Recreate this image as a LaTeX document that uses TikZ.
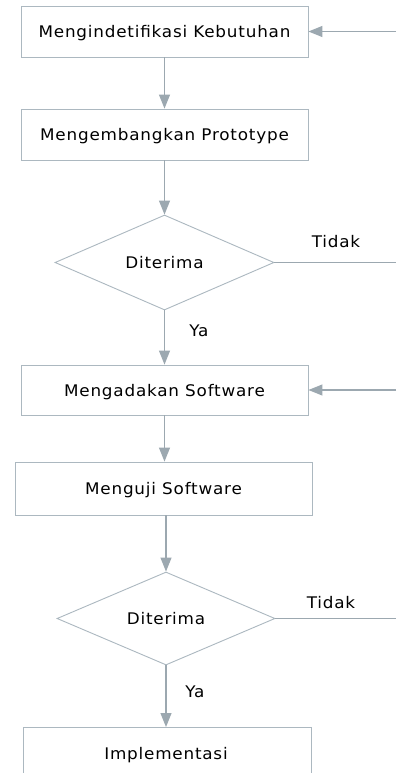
\documentclass[tikz,border=0pt]{standalone}
\usepackage{fontspec}
\setmainfont[FakeStretch=1.05,LetterSpace=5]{DejaVu Sans}
\usetikzlibrary{shapes.geometric,arrows.meta}
\definecolor{linec}{RGB}{156,168,176}
\definecolor{boxc}{RGB}{172,184,192}
\tikzset{
  boxnode/.style={draw=boxc,line width=0.9pt,rectangle,inner sep=0pt,text depth=0pt,font=\fontsize{16}{18}\selectfont},
  decnode/.style={draw=boxc,line width=0.9pt,diamond,inner sep=0pt,text depth=0pt,font=\fontsize{16}{18}\selectfont},
  lbl/.style={inner sep=0pt,font=\fontsize{16}{18}\selectfont},
  conn/.style={draw=linec,line width=1.1pt},
  arr/.style={conn,-{Triangle[length=14pt,width=11pt]}}
}
\begin{document}
\begin{tikzpicture}[x=1pt,y=-1pt]
\useasboundingbox (0,0) rectangle (396,773);
\fill[white] (0,0) rectangle (396,773);
\node[boxnode,minimum width=287pt,minimum height=51pt] (b1) at (164.5,31.5) {Mengindetifikasi Kebutuhan};
\node[boxnode,minimum width=287pt,minimum height=51pt] (b2) at (164.5,134.5) {Mengembangkan Prototype};
\node[decnode,minimum width=219pt,minimum height=95pt] (d1) at (164.5,262.5) {Diterima};
\node[boxnode,minimum width=287pt,minimum height=50pt] (b3) at (164.5,390) {Mengadakan Software};
\node[boxnode,minimum width=297pt,minimum height=53pt] (b4) at (163.5,488.5) {Menguji Software};
\node[decnode,minimum width=218pt,minimum height=93pt] (d2) at (166,618.5) {Diterima};
\node[lbl,text depth=0pt] (b5) at (166,753) {Implementasi};
\coordinate (b5n) at (166,727);
\begin{scope}
\clip (0,0) rectangle (396,773);
\draw[draw=boxc,line width=0.9pt] (23,790) -- (23,727) -- (311,727) -- (311,790);
\end{scope}
\coordinate (in1) at (396,31.5);
\coordinate (in3) at (396,390);
\coordinate (out1) at (396,262.5);
\coordinate (out2) at (396,618.5);
\draw[arr] (in1) -- (b1.east);
\draw[arr] (b1.south) -- (b2.north);
\draw[arr] (b2.south) -- (d1.north);
\draw[conn] (d1.east) -- (out1);
\draw[arr] (d1.south) -- (b3.north);
\draw[arr] (in3) -- (b3.east);
\draw[arr] (b3.south) -- (b3.south |- b4.north);
\draw[arr] (d2.north |- b4.south) -- (d2.north);
\draw[conn] (d2.east) -- (out2);
\draw[arr] (d2.south) -- (b5n);
\node[lbl] (t1) at (336,242) {Tidak};
\node[lbl] (y1) at (199,331) {Ya};
\node[lbl] (t2) at (331,603) {Tidak};
\node[lbl] (y2) at (195,692) {Ya};
\end{tikzpicture}
\end{document}
